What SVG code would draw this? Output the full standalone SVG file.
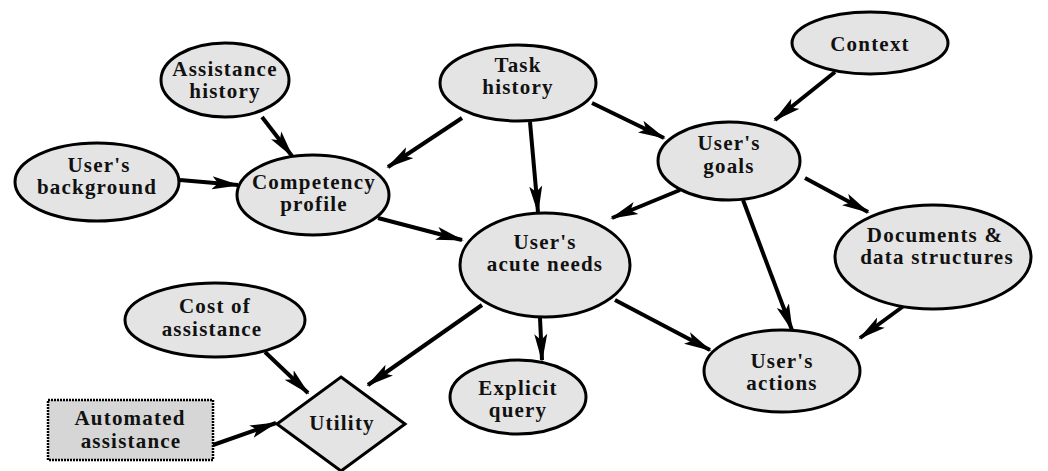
<svg xmlns="http://www.w3.org/2000/svg" width="1048" height="471" viewBox="0 0 1048 471">
<style>
.n{fill:#e4e4e4;stroke:#000;stroke-width:3}
.b{fill:#d6d6d6;stroke:#000;stroke-width:2.5;stroke-dasharray:2 1}
.t{font-family:"Liberation Serif","Times New Roman",serif;font-weight:bold;font-size:21px;letter-spacing:1.2px;text-anchor:middle;fill:#111}
.e{stroke:#000;stroke-width:4;fill:none;marker-end:url(#ah)}
</style>
<defs>
<marker id="ah" viewBox="0 0 28 14" refX="26" refY="7" markerWidth="28" markerHeight="14" markerUnits="userSpaceOnUse" orient="auto">
<path d="M0,0.5 L28,7 L0,13.5 L6,7 z" fill="#000"/>
</marker>
</defs>
<rect width="1048" height="471" fill="#fff"/>
<g id="connectors">
<path class="e" d="M262,117 L292,156"/>
<path class="e" d="M180,180 L238,185"/>
<path class="e" d="M462,118 L388,167"/>
<path class="e" d="M530,122 L538,212"/>
<path class="e" d="M592,103 L664,138"/>
<path class="e" d="M835,72 L775,120"/>
<path class="e" d="M680,190 L612,218"/>
<path class="e" d="M805,178 L868,212"/>
<path class="e" d="M743,200 L792,330"/>
<path class="e" d="M905,305 L860,338"/>
<path class="e" d="M378,218 L462,240"/>
<path class="e" d="M540,318 L542,360"/>
<path class="e" d="M615,300 L710,350"/>
<path class="e" d="M482,305 L368,385"/>
<path class="e" d="M265,352 L308,393"/>
<path class="e" d="M213,445 L276,423"/>
</g>
<g id="assistance-history"><ellipse class="n" cx="225" cy="80" rx="64" ry="37"/><text class="t" x="225" y="76">Assistance</text><text class="t" x="225" y="98">history</text></g>
<g id="users-background"><ellipse class="n" cx="97" cy="182" rx="82" ry="39"/><text class="t" x="99" y="172">User's</text><text class="t" x="97" y="194">background</text></g>
<g id="competency-profile"><ellipse class="n" cx="313" cy="195" rx="76" ry="40"/><text class="t" x="314" y="189">Competency</text><text class="t" x="314" y="211">profile</text></g>
<g id="task-history"><ellipse class="n" cx="518" cy="83" rx="78" ry="38"/><text class="t" x="518" y="72">Task</text><text class="t" x="518" y="94">history</text></g>
<g id="context"><ellipse class="n" cx="870" cy="43" rx="78" ry="31"/><text class="t" x="870" y="51">Context</text></g>
<g id="users-goals"><ellipse class="n" cx="729" cy="161" rx="71" ry="39"/><text class="t" x="729" y="150">User's</text><text class="t" x="729" y="173">goals</text></g>
<g id="users-acute-needs"><ellipse class="n" cx="545" cy="265" rx="85" ry="52"/><text class="t" x="545" y="249">User's</text><text class="t" x="545" y="271">acute needs</text></g>
<g id="documents"><ellipse class="n" cx="933" cy="257" rx="98" ry="52"/><text class="t" x="935" y="242">Documents &amp;</text><text class="t" x="937" y="264">data structures</text></g>
<g id="cost-of-assistance"><ellipse class="n" cx="215" cy="320" rx="90" ry="37"/><text class="t" x="215" y="313">Cost of</text><text class="t" x="212" y="336">assistance</text></g>
<g id="explicit-query"><ellipse class="n" cx="518" cy="397" rx="68" ry="37"/><text class="t" x="518" y="395">Explicit</text><text class="t" x="518" y="417">query</text></g>
<g id="users-actions"><ellipse class="n" cx="782" cy="371" rx="78" ry="41"/><text class="t" x="782" y="368">User's</text><text class="t" x="782" y="390">actions</text></g>
<g id="automated-assistance"><rect class="b" x="48" y="400" width="165" height="60"/><text class="t" x="130" y="425">Automated</text><text class="t" x="131" y="448">assistance</text></g>
<g id="utility"><polygon class="n" points="341,377 405,424 341,471 277,424"/><text class="t" x="342" y="430">Utility</text></g>
</svg>
